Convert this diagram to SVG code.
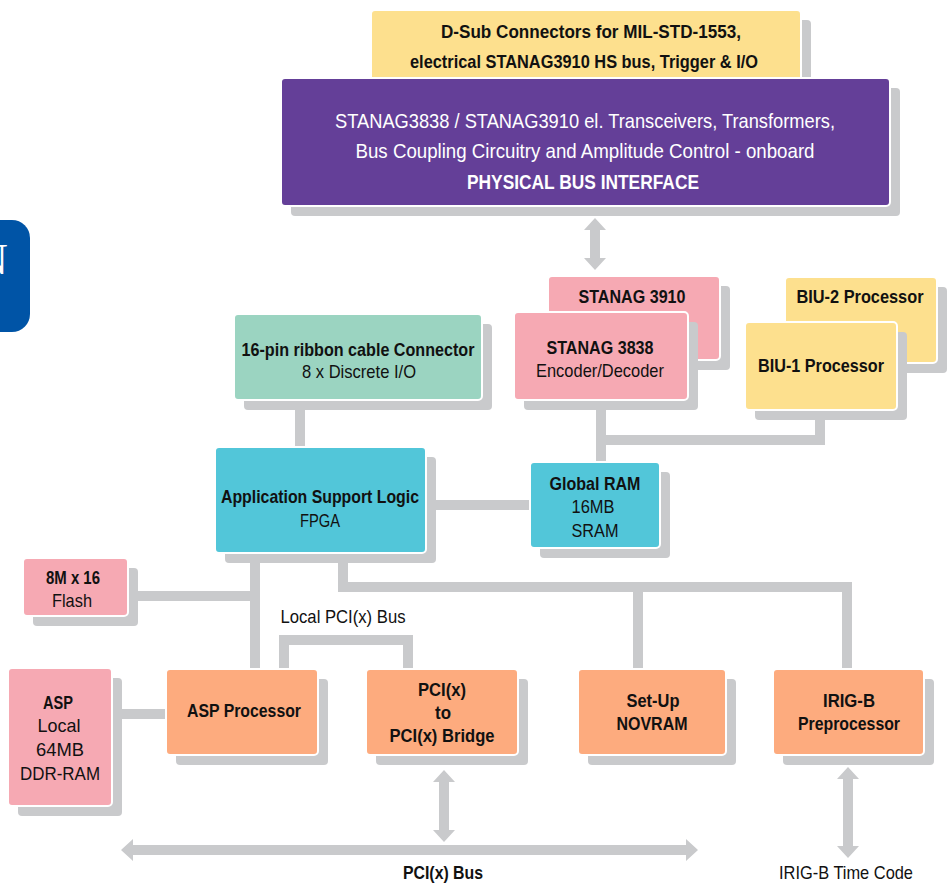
<svg xmlns="http://www.w3.org/2000/svg" width="947" height="884" viewBox="0 0 947 884">
<defs>
<style>
.sh{fill:#c9cacc}
.bx{stroke:#ffffff;stroke-width:2}
.yel{fill:#fde08e}.pur{fill:#643f98}.pnk{fill:#f6a9b3}.grn{fill:#9bd4c1}.cyn{fill:#52c6d9}.org{fill:#fdab7e}
text{font-family:"Liberation Sans",Arial,sans-serif;font-size:19px;fill:#111;text-anchor:middle}
.b{font-weight:bold}
.w{fill:#ffffff;font-size:21px}
.cn{fill:none;stroke:#c9cacc;stroke-width:10}
.ar{fill:#c9cacc}
</style>
</defs>
<rect width="947" height="884" fill="#ffffff"/>
<g id="tab">
<rect x="-30" y="220" width="60" height="112" rx="18" fill="#0054a6"/>
<text x="-8" y="274" style="font-family:'Liberation Serif',serif;font-size:44px;fill:#ffffff">N</text>
</g>
<g id="connectors">
<path class="cn" d="M300 410V447M601 410V462M601 440H820V420M436 505H530M255 563V669M138 596H255M343 563V587H847V669M638 587V669M284 669V640H408V669M122 714H166"/>
<polygon class="ar" points="595,218 606,230 600,230 600,258 606,258 595,270 584,258 590,258 590,230 584,230"/>
<polygon class="ar" points="444,770 455,782 449,782 449,830 455,830 444,842 433,830 439,830 439,782 433,782"/>
<polygon class="ar" points="848,767 859,779 853,779 853,846 859,846 848,858 837,846 843,846 843,779 837,779"/>
<polygon class="ar" points="121,850 133,839 133,845 686,845 686,839 698,850 686,861 686,855 133,855 133,861"/>
</g>
<g id="dsub">
<rect class="sh" x="381" y="20" width="430" height="71" rx="4"/>
<rect class="bx yel" x="371" y="10" width="430" height="71" rx="4"/>
<text class="b" x="591" y="38" textLength="300" lengthAdjust="spacingAndGlyphs">D-Sub Connectors for MIL-STD-1553,</text>
<text class="b" x="584" y="68" textLength="348" lengthAdjust="spacingAndGlyphs">electrical STANAG3910 HS bus, Trigger &amp; I/O</text>
</g>
<g id="phys">
<rect class="sh" x="291" y="88" width="609" height="128" rx="4"/>
<rect class="bx pur" x="281" y="78" width="609" height="128" rx="4"/>
<text class="w" x="585" y="128" textLength="500" lengthAdjust="spacingAndGlyphs">STANAG3838 / STANAG3910 el. Transceivers, Transformers,</text>
<text class="w" x="585" y="158" textLength="459" lengthAdjust="spacingAndGlyphs">Bus Coupling Circuitry and Amplitude Control - onboard</text>
<text class="w b" x="583" y="189" textLength="232" lengthAdjust="spacingAndGlyphs">PHYSICAL BUS INTERFACE</text>
</g>
<g id="stanag3910">
<rect class="sh" x="558" y="286" width="172" height="84" rx="4"/>
<rect class="bx pnk" x="548" y="276" width="172" height="84" rx="4"/>
<text class="b" x="632" y="303" textLength="107" lengthAdjust="spacingAndGlyphs">STANAG 3910</text>
</g>
<g id="stanag3838">
<rect class="sh" x="524" y="322" width="174" height="88" rx="4"/>
<rect class="bx pnk" x="514" y="312" width="174" height="88" rx="4"/>
<text class="b" x="600" y="354" textLength="107" lengthAdjust="spacingAndGlyphs">STANAG 3838</text>
<text x="600" y="377" textLength="128" lengthAdjust="spacingAndGlyphs">Encoder/Decoder</text>
</g>
<g id="biu2">
<rect class="sh" x="795" y="287" width="152" height="86" rx="4"/>
<rect class="bx yel" x="785" y="277" width="152" height="86" rx="4"/>
<text class="b" x="860" y="303" textLength="127" lengthAdjust="spacingAndGlyphs">BIU-2 Processor</text>
</g>
<g id="biu1">
<rect class="sh" x="755" y="332" width="152" height="88" rx="4"/>
<rect class="bx yel" x="745" y="322" width="152" height="88" rx="4"/>
<text class="b" x="821" y="372" textLength="126" lengthAdjust="spacingAndGlyphs">BIU-1 Processor</text>
</g>
<g id="ribbon">
<rect class="sh" x="244" y="324" width="248" height="86" rx="4"/>
<rect class="bx grn" x="234" y="314" width="248" height="86" rx="4"/>
<text class="b" x="358" y="356" textLength="233" lengthAdjust="spacingAndGlyphs">16-pin ribbon cable Connector</text>
<text x="359" y="378" textLength="114" lengthAdjust="spacingAndGlyphs">8 x Discrete I/O</text>
</g>
<g id="asl">
<rect class="sh" x="225" y="457" width="211" height="106" rx="4"/>
<rect class="bx cyn" x="215" y="447" width="211" height="106" rx="4"/>
<text class="b" x="320" y="503" textLength="198" lengthAdjust="spacingAndGlyphs">Application Support Logic</text>
<text x="320" y="527" textLength="40" lengthAdjust="spacingAndGlyphs">FPGA</text>
</g>
<g id="globalram">
<rect class="sh" x="540" y="472" width="130" height="86" rx="4"/>
<rect class="bx cyn" x="530" y="462" width="130" height="86" rx="4"/>
<text class="b" x="595" y="490" textLength="91" lengthAdjust="spacingAndGlyphs">Global RAM</text>
<text x="593" y="513" textLength="43" lengthAdjust="spacingAndGlyphs">16MB</text>
<text x="595" y="537" textLength="47" lengthAdjust="spacingAndGlyphs">SRAM</text>
</g>
<g id="flash">
<rect class="sh" x="33" y="568" width="105" height="58" rx="4"/>
<rect class="bx pnk" x="23" y="558" width="105" height="58" rx="4"/>
<text class="b" x="73" y="584" textLength="54" lengthAdjust="spacingAndGlyphs">8M x 16</text>
<text x="72" y="607" textLength="40" lengthAdjust="spacingAndGlyphs">Flash</text>
</g>
<g id="aspram">
<rect class="sh" x="18" y="678" width="104" height="138" rx="4"/>
<rect class="bx pnk" x="8" y="668" width="104" height="138" rx="4"/>
<text class="b" x="58" y="709" textLength="30" lengthAdjust="spacingAndGlyphs">ASP</text>
<text x="59" y="732" textLength="43" lengthAdjust="spacingAndGlyphs">Local</text>
<text x="60" y="756" textLength="48" lengthAdjust="spacingAndGlyphs">64MB</text>
<text x="60" y="780" textLength="80" lengthAdjust="spacingAndGlyphs">DDR-RAM</text>
</g>
<g id="aspproc">
<rect class="sh" x="176" y="679" width="152" height="86" rx="4"/>
<rect class="bx org" x="166" y="669" width="152" height="86" rx="4"/>
<text class="b" x="244" y="717" textLength="114" lengthAdjust="spacingAndGlyphs">ASP Processor</text>
</g>
<g id="bridge">
<rect class="sh" x="376" y="679" width="152" height="86" rx="4"/>
<rect class="bx org" x="366" y="669" width="152" height="86" rx="4"/>
<text class="b" x="442" y="696" textLength="48" lengthAdjust="spacingAndGlyphs">PCI(x)</text>
<text class="b" x="443" y="719" textLength="16" lengthAdjust="spacingAndGlyphs">to</text>
<text class="b" x="442" y="742" textLength="105" lengthAdjust="spacingAndGlyphs">PCI(x) Bridge</text>
</g>
<g id="novram">
<rect class="sh" x="588" y="679" width="148" height="86" rx="4"/>
<rect class="bx org" x="578" y="669" width="148" height="86" rx="4"/>
<text class="b" x="653" y="707" textLength="53" lengthAdjust="spacingAndGlyphs">Set-Up</text>
<text class="b" x="652" y="730" textLength="71" lengthAdjust="spacingAndGlyphs">NOVRAM</text>
</g>
<g id="irig">
<rect class="sh" x="783" y="679" width="151" height="86" rx="4"/>
<rect class="bx org" x="773" y="669" width="151" height="86" rx="4"/>
<text class="b" x="849" y="707" textLength="52" lengthAdjust="spacingAndGlyphs">IRIG-B</text>
<text class="b" x="849" y="730" textLength="102" lengthAdjust="spacingAndGlyphs">Preprocessor</text>
</g>
<g id="labels">
<text x="343" y="623" textLength="125" lengthAdjust="spacingAndGlyphs">Local PCI(x) Bus</text>
<text class="b" x="443" y="879" textLength="80" lengthAdjust="spacingAndGlyphs">PCI(x) Bus</text>
<text x="846" y="879" textLength="134" lengthAdjust="spacingAndGlyphs">IRIG-B Time Code</text>
</g>
</svg>
